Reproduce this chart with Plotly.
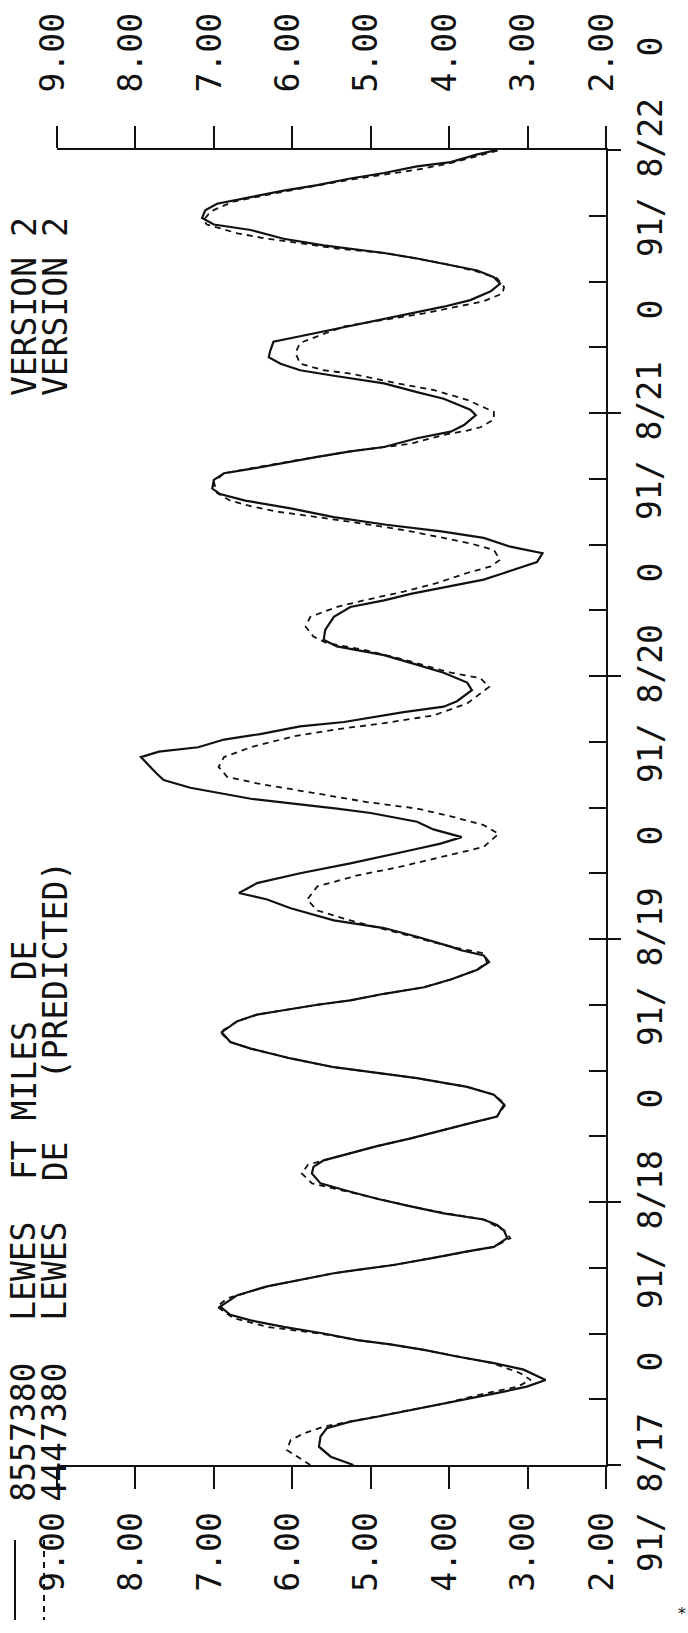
import plotly.graph_objects as go

# ---------------- data ----------------
# hours since 1991-08-17 00:00 and water level (ft)
OBS_HOURS = [0.0, 0.76, 1.67, 2.6, 3.35, 3.96, 4.4, 5.0, 5.6, 6.2, 6.7, 7.15, 7.76, 8.7, 9.3, 9.9,
             10.5, 11.0, 11.4, 12.0, 12.6, 13.2, 13.7, 14.45, 15.5, 16.3, 16.9, 17.5, 17.8, 18.25,
             18.9, 19.5, 19.9, 20.7, 21.4, 21.9, 22.4, 22.96, 23.6, 24.3, 25.1, 25.7, 26.6, 27.2,
             27.8, 28.3, 29.1, 29.8, 30.6, 31.2, 31.8, 32.9, 33.8, 34.5, 35.3, 35.7, 36.3, 37.1,
             38.0, 38.6, 39.5, 40.5, 41.1, 41.5, 42.0, 42.4, 43.0, 43.6, 44.3, 45.2, 45.9, 46.5,
             47.0, 47.3, 48.2, 49.0, 49.7, 50.8, 51.6, 52.2, 53.1, 54.0, 54.9, 56.1, 56.7, 57.3,
             58.0, 58.7, 59.5, 59.9, 60.4, 60.8, 61.8, 62.5, 63.1, 64.6, 65.1, 65.5, 66.2, 66.7,
             67.4, 67.8, 68.7, 69.2, 69.7, 70.7, 71.4, 72.3, 73.2, 73.9, 74.7, 75.3, 76.2, 77.4,
             78.3, 78.9, 79.5, 80.1, 80.8, 81.4, 82.4, 83.2, 83.8, 84.6, 85.2, 85.8, 86.5, 87.3,
             88.0, 88.6, 89.1, 89.9, 90.5, 90.9, 91.6, 92.0, 92.5, 92.9, 93.7, 94.3, 94.9, 95.8,
             96.3, 97.3, 97.9, 98.7, 99.4, 99.9, 100.5, 101.1, 101.7, 102.5, 103.0, 103.7, 104.3,
             105.1, 105.7, 106.3, 107.1, 107.8, 108.4, 109.0, 109.5, 110.1, 110.6, 111.0, 111.3,
             111.9, 112.7, 113.2, 113.8, 114.5, 115.1, 115.7, 116.3, 116.8, 117.4, 117.9, 118.5,
             118.9, 119.6, 120.0]
OBS_FT = [5.22, 5.51, 5.66, 5.64, 5.56, 5.26, 4.92, 4.49, 4.07, 3.64, 3.30, 3.01, 2.77, 3.05, 3.43, 3.90,
          4.32, 4.75, 5.17, 5.60, 6.11, 6.53, 6.79, 6.92, 6.70, 6.32, 5.90, 5.47, 5.17, 4.71,
          4.20, 3.77, 3.43, 3.26, 3.30, 3.39, 3.56, 4.07, 4.49, 4.92, 5.34, 5.64, 5.75, 5.73,
          5.60, 5.34, 4.92, 4.49, 4.07, 3.73, 3.39, 3.30, 3.43, 3.77, 4.41, 4.83, 5.47, 6.02,
          6.53, 6.79, 6.90, 6.70, 6.45, 6.11, 5.68, 5.26, 4.83, 4.32, 3.98, 3.64, 3.49, 3.56,
          3.86, 3.98, 4.41, 4.83, 5.47, 6.02, 6.32, 6.68, 6.45, 5.90, 5.26, 4.49, 4.11, 3.84,
          4.20, 4.41, 5.00, 5.43, 6.02, 6.53, 7.30, 7.64, 7.73, 7.93, 7.70, 7.20, 6.87, 6.41,
          5.90, 5.34, 4.58, 4.07, 3.90, 3.71, 3.77, 4.07, 4.49, 4.83, 5.43, 5.60, 5.58, 5.47,
          5.26, 4.83, 4.49, 4.07, 3.56, 3.30, 2.88, 2.81, 3.22, 3.56, 4.10, 4.80, 5.47, 6.02,
          6.60, 6.92, 7.02, 7.00, 6.87, 6.53, 6.02, 5.68, 5.26, 4.83, 4.41, 3.98, 3.81, 3.66,
          3.73, 4.07, 4.41, 4.83, 5.47, 5.90, 6.15, 6.30, 6.28, 6.24, 5.90, 5.43, 5.00,
          4.49, 4.07, 3.73, 3.47, 3.35, 3.43, 3.64, 3.98, 4.41, 4.83, 5.26, 5.60,
          6.11, 6.53, 7.00, 7.15, 7.11, 6.96, 6.53, 6.11, 5.68, 5.26, 4.83, 4.41,
          3.98, 3.64, 3.39]

PRED_HOURS = [0.0, 1.37, 2.28, 2.89, 3.5, 3.96, 4.4, 5.0, 5.6, 6.5, 7.15, 7.76, 8.4, 9.3, 9.9, 10.5,
              11.0, 11.4, 12.0, 12.6, 13.4, 14.45, 15.2, 16.3, 16.9, 17.5, 18.25, 18.9, 19.5, 19.9,
              20.7, 21.4, 22.4, 23.0, 23.6, 24.3, 25.1, 25.7, 26.6, 27.4, 27.8, 28.3, 29.1, 29.8,
              30.6, 31.2, 31.8, 32.9, 33.8, 34.5, 35.3, 35.7, 36.3, 37.1, 38.0, 38.6, 39.5, 40.5,
              41.1, 41.5, 42.0, 42.4, 43.0, 43.6, 44.3, 45.2, 45.9, 46.7, 47.3, 48.5, 49.7, 50.6,
              51.6, 52.8, 53.8, 54.6, 55.7, 56.4, 57.6, 58.4, 59.2, 59.9, 60.5, 61.1, 61.8, 62.2,
              62.8, 63.7, 64.6, 65.5, 66.5, 67.1, 67.7, 68.4, 69.5, 71.0, 71.8, 72.3, 73.5, 74.4,
              75.0, 75.6, 76.5, 77.4, 78.3, 78.9, 79.7, 80.5, 81.4, 82.0, 82.6, 83.5, 84.1, 84.6,
              85.2, 85.8, 86.2, 86.5, 87.0, 87.5, 88.0, 88.7, 89.7, 90.5, 91.6, 92.5, 93.2, 94.0,
              94.4, 94.7, 95.4, 96.1, 97.2, 98.1, 98.7, 99.6, 99.9, 100.5, 101.5, 102.4, 103.0,
              103.9, 104.5, 105.1, 105.7, 106.2, 106.9, 107.5, 108.3, 108.9, 109.5, 110.1, 110.6,
              111.0, 111.5, 111.9, 112.4, 113.2, 113.6, 114.4, 115.3, 116.2, 117.3, 118.2, 118.8,
              119.6, 120.0]
PRED_FT = [5.77, 6.07, 6.02, 5.85, 5.60, 5.26, 4.92, 4.49, 4.07, 3.56, 3.13, 2.96, 3.10, 3.45, 3.90, 4.32,
           4.75, 5.17, 5.65, 6.32, 6.75, 6.96, 6.83, 6.32, 5.90, 5.47, 4.71, 4.20, 3.77, 3.43,
           3.22, 3.30, 3.56, 4.07, 4.49, 4.92, 5.40, 5.75, 5.88, 5.80, 5.60, 5.34, 4.92, 4.49,
           4.07, 3.73, 3.39, 3.28, 3.43, 3.77, 4.41, 4.83, 5.47, 6.02, 6.53, 6.79, 6.92, 6.70,
           6.45, 6.11, 5.68, 5.26, 4.83, 4.32, 3.98, 3.64, 3.52, 3.56, 3.98, 4.62, 5.26, 5.68,
           5.81, 5.68, 5.17, 4.62, 3.98, 3.56, 3.37, 3.56, 3.98, 4.41, 5.05, 5.56, 6.11, 6.45,
           6.83, 6.94, 6.87, 6.53, 5.98, 5.47, 4.83, 4.20, 3.77, 3.49, 3.60, 3.98, 4.58, 5.09,
           5.56, 5.73, 5.83, 5.77, 5.43, 5.09, 4.58, 4.15, 3.77, 3.47, 3.35, 3.43, 3.73, 4.07,
           4.49, 5.00, 5.43, 5.68, 6.19, 6.53, 6.79, 6.96, 7.00, 6.87, 6.02, 5.26, 4.49, 4.07,
           3.77, 3.60, 3.43, 3.43, 3.77, 4.20, 4.66, 5.26, 5.60, 5.90, 5.96, 5.90, 5.68,
           5.34, 4.83, 4.32, 3.90, 3.56, 3.32, 3.30, 3.39, 3.64, 3.98, 4.41, 4.83,
           5.43, 5.90, 6.32, 6.70, 7.09, 7.13, 7.04, 6.75, 6.11, 5.26, 4.41, 3.98,
           3.56, 3.35]

VALUE_TICKS = [9, 8, 7, 6, 5, 4, 3, 2]
DATES = ["8/17", "8/18", "8/19", "8/20", "8/21", "8/22"]
YEAR = "91/"
LABEL_HOURS = list(range(0, 133, 12))
HEADER_OBS = ["8557380", "LEWES", "FT MILES", "DE", "VERSION 2"]
HEADER_PRED = ["4447380", "LEWES", "DE", "(PREDICTED)", "VERSION 2"]

# ---------------- styling / layout ----------------
FONT = "DejaVu Sans Mono"
FS = 33
INK = "#111111"
NB = "\u00a0"
W, H = 688, 1633
ML, MR, MT, MB = 57, 82, 150, 168
X_RANGE = [9, 2]
Y_RANGE = [0, 120]
# character-cell positions of each header word (first cell index), pitch in px
HEADER_OBS_CELLS = [0, 9, 16, 26, 55]
HEADER_PRED_CELLS = [0, 9, 16, 21, 55]
CELL = 20.1
TEXT_START_Y = 1503

fig = go.Figure()
fig.add_trace(go.Scatter(x=OBS_FT, y=OBS_HOURS, mode="lines",
                         line=dict(color=INK, width=2.2), xaxis="x", yaxis="y",
                         showlegend=False))
fig.add_trace(go.Scatter(x=PRED_FT, y=PRED_HOURS, mode="lines",
                         line=dict(color=INK, width=1.8, dash="6px,5px"),
                         xaxis="x2", yaxis="y2", showlegend=False))

xcommon = dict(range=X_RANGE, tickvals=VALUE_TICKS, tickformat=".2f",
               ticks="outside", ticklen=22, tickwidth=2, tickcolor=INK,
               showline=True, linewidth=2, linecolor=INK, showgrid=False,
               zeroline=False, tickangle=-90, automargin=False, ticklabelshift=4,
               tickfont=dict(family=FONT, size=FS, color=INK))
ycommon = dict(range=Y_RANGE, showgrid=False, zeroline=False, automargin=False,
               showticklabels=False, tickcolor=INK, tickwidth=2, side="right")

fig.update_layout(
    width=W, height=H, template="none",
    paper_bgcolor="white", plot_bgcolor="white",
    margin=dict(l=ML, r=MR, t=MT, b=MB, pad=0),
    showlegend=False,
    xaxis=dict(**xcommon, side="bottom", anchor="y", ticklabelstandoff=10),
    xaxis2=dict(**xcommon, side="top", overlaying="x", anchor="y", ticklabelstandoff=27),
    yaxis=dict(**ycommon, anchor="x", showline=True, linewidth=2, linecolor=INK,
               ticks="inside", ticklen=17, tick0=0, dtick=6),
    yaxis2=dict(**ycommon, overlaying="y", anchor="x", showline=False,
                ticks="outside", ticklen=14, tick0=0, dtick=24),
)

plot_w = W - ML - MR
plot_h = H - MT - MB


def paper_x(px):
    return (px - ML) / plot_w


def paper_y(py):
    return (H - MB - py) / plot_h


# time labels (every 12 h, rotated)
for h in LABEL_HOURS:
    txt = (YEAR + NB + DATES[h // 24]) if h % 24 == 0 else "0"
    fig.add_annotation(x=1, y=(h - Y_RANGE[0]) / (Y_RANGE[1] - Y_RANGE[0]),
                       xref="paper", yref="paper", xshift=44, yshift=-28,
                       text=txt, textangle=-90, showarrow=False,
                       xanchor="center", yanchor="middle",
                       font=dict(family=FONT, size=FS, color=INK))

# header columns, word by word
for words, cells, cx in [(HEADER_OBS, HEADER_OBS_CELLS, 24), (HEADER_PRED, HEADER_PRED_CELLS, 55)]:
    for word, c0 in zip(words, cells):
        center = TEXT_START_Y - CELL * (c0 + len(word) / 2)
        fig.add_annotation(x=paper_x(cx), y=paper_y(center), xref="paper", yref="paper",
                           text=word.replace(" ", NB), textangle=-90, showarrow=False,
                           xanchor="center", yanchor="middle",
                           font=dict(family=FONT, size=FS, color=INK))

# small marker bottom right
fig.add_annotation(x=paper_x(682), y=paper_y(1613), xref="paper", yref="paper",
                   text="*", showarrow=False, xanchor="center", yanchor="middle",
                   font=dict(family=FONT, size=16, color=INK))

# legend line samples
fig.add_shape(type="line", xref="paper", yref="paper",
              x0=paper_x(15), x1=paper_x(15), y0=paper_y(1540), y1=paper_y(1620),
              line=dict(color=INK, width=2))
fig.add_shape(type="line", xref="paper", yref="paper",
              x0=paper_x(44), x1=paper_x(44), y0=paper_y(1540), y1=paper_y(1620),
              line=dict(color=INK, width=2, dash="6px,5px"))

fig.write_html("out.html")
